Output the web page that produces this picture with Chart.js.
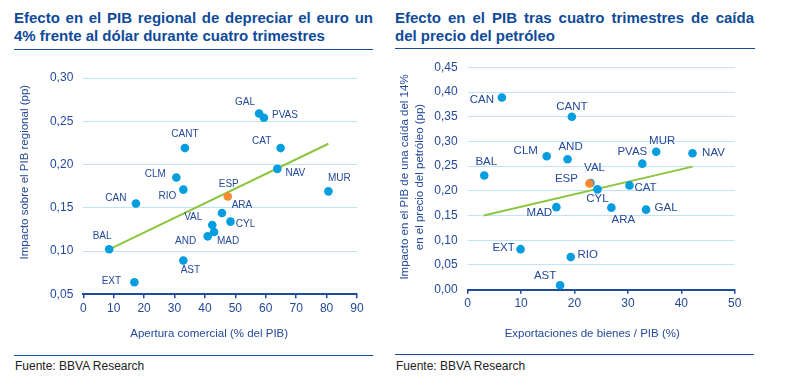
<!DOCTYPE html>
<html><head><meta charset="utf-8">
<script src="https://cdn.jsdelivr.net/npm/chart.js@4"></script>
<style>
body{margin:0;background:#fff;width:788px;height:392px;overflow:hidden;position:relative;font-family:"Liberation Sans",Arial,sans-serif;}
.title{position:absolute;top:9px;width:359px;font-weight:bold;font-size:15px;line-height:17.5px;color:#0f4b9a;text-align:justify;}
.rule{position:absolute;height:0;border-top:1.5px solid #1a4b9b;}
.src{position:absolute;top:359px;font-size:12px;color:#222;}
canvas{position:absolute;top:50px;}
</style></head>
<body>
<div class="title" style="left:14px">Efecto en el PIB regional de depreciar el euro un 4% frente al dólar durante cuatro trimestres</div>
<div class="rule" style="left:14px;top:48.5px;width:359px"></div>
<div class="title" style="left:395px">Efecto en el PIB tras cuatro trimestres de caída del precio del petróleo</div>
<div class="rule" style="left:395px;top:47.5px;width:360px"></div>
<canvas id="c1" width="394" height="300" style="left:0"></canvas>
<canvas id="c2" width="394" height="300" style="left:394px"></canvas>
<div class="rule" style="left:14px;top:354.5px;width:359px"></div>
<div class="rule" style="left:395px;top:353.5px;width:359px"></div>
<div class="src" style="left:15px">Fuente: BBVA Research</div>
<div class="src" style="left:396px">Fuente: BBVA Research</div>
<script>
// ---------- Data: left chart (apertura comercial) ----------
const leftNames = ['BAL','EXT','CAN','CLM','RIO','CANT','AST','AND','VAL','MAD','CYL','ARA','ESP','GAL','PVAS','CAT','NAV','MUR'];
const leftX = [8.5,16.8,17.3,30.6,32.9,33.4,32.9,40.9,42.4,43.0,48.4,45.6,47.5,57.8,59.4,64.9,63.8,80.6];
const leftY = [0.102,0.064,0.155,0.185,0.171,0.219,0.089,0.117,0.130,0.122,0.134,0.144,0.163,0.259,0.254,0.219,0.195,0.169];
const leftTrendX = [8.5, 80.6];
const leftTrendY = [0.102, 0.224];

// ---------- Data: right chart (exportaciones de bienes) ----------
const rightNames = ['CAN','CANT','CLM','AND','BAL','ESP','VAL','CYL','MAD','PVAS','MUR','NAV','CAT','ARA','GAL','EXT','RIO','AST'];
const rightX = [6.4,19.5,14.8,18.7,3.1,22.8,23.0,24.3,16.6,32.7,35.3,42.1,30.3,26.9,33.4,9.9,19.3,17.3];
const rightY = [0.389,0.350,0.270,0.264,0.231,0.215,0.216,0.203,0.167,0.255,0.279,0.276,0.211,0.166,0.162,0.082,0.066,0.009];
const rightTrendX = [3.0, 42.1];
const rightTrendY = [0.150, 0.249];

// ---------- Styles ----------
const FONT = '"Liberation Sans", Arial, sans-serif';
const BLUE = '#049ddf', ORANGE = '#f58a33', GREEN = '#8cc63e';
const TXT = '#24499a', AXIS = '#1f4b9c', GRID = '#bfe4f6';
Chart.defaults.font.family = FONT;

const leftOffsets = {BAL:[-7,-13],EXT:[-23,-1],CAN:[-20,-5],CLM:[-21,-3],RIO:[-16,7],CANT:[0,-14],AST:[7,10],
  AND:[-22,5],VAL:[-19,-8],MAD:[14,9],CYL:[15,3],ARA:[20,-8],ESP:[1,-12],GAL:[-14,-11],PVAS:[21,-3],CAT:[-19,-7],NAV:[18,4],MUR:[11,-13]};
const rightOffsets = {CAN:[-20,2],CANT:[0,-10],CLM:[-21,-5],AND:[3,-12],BAL:[2,-14],ESP:[-23,-5],VAL:[4,-15],CYL:[0,9],
  MAD:[-17,6],PVAS:[-10,-12],MUR:[6,-11],NAV:[21,0],CAT:[16,2],ARA:[12,12],GAL:[20,-2],EXT:[-17,-1],RIO:[17,-2],AST:[-15,-9]};

function labelPlugin(offsets, font) {
  return {
    id: 'pointLabels',
    afterDatasetsDraw(chart) {
      const ctx = chart.ctx;
      ctx.save();
      ctx.font = font; ctx.fillStyle = TXT; ctx.textAlign = 'center'; ctx.textBaseline = 'middle';
      chart.data.datasets.forEach((ds, di) => {
        if (!ds.names) return;
        chart.getDatasetMeta(di).data.forEach((el, i) => {
          const n = ds.names[i]; const o = offsets[n] || [0,0];
          ctx.fillText(n, el.x + o[0], el.y + o[1]);
        });
      });
      ctx.restore();
    }
  };
}
function titlePlugin(cfg) {
  return {
    id: 'axisTitles',
    afterDraw(chart) {
      const {ctx, chartArea: a} = chart;
      ctx.save();
      ctx.font = '11.5px ' + FONT; ctx.fillStyle = TXT; ctx.textAlign = 'center'; ctx.textBaseline = 'middle';
      ctx.fillText(cfg.x.text, (a.left + a.right) / 2 + cfg.x.dx, a.bottom + cfg.x.gap);
      const cy = (a.top + a.bottom) / 2 + cfg.y.dy;
      cfg.y.lines.forEach((t, k) => {
        ctx.save(); ctx.translate(cfg.y.x + k * cfg.y.lh, cy); ctx.rotate(-Math.PI / 2);
        ctx.fillText(t, 0, 0); ctx.restore();
      });
      ctx.restore();
    }
  };
}
function buildDatasets(names, xs, ys, tx, ty, r) {
  const main = {names: [], data: []}, esp = {names: [], data: []};
  names.forEach((n, i) => { const t = n === 'ESP' ? esp : main; t.names.push(n); t.data.push({x: xs[i], y: ys[i]}); });
  return [
    {type: 'scatter', data: esp.data, names: esp.names, backgroundColor: ORANGE, borderColor: ORANGE, borderWidth: 0, pointRadius: r},
    {type: 'scatter', data: main.data, names: main.names, backgroundColor: BLUE, borderColor: BLUE, borderWidth: 0, pointRadius: r},
    {type: 'line', data: tx.map((x, i) => ({x: x, y: ty[i]})), borderColor: GREEN, borderWidth: 2, pointRadius: 0, fill: false, tension: 0}
  ];
}
function makeChart(id, ds, xMax, yMin, yMax, pad, yWidth, xHeight, offsets, labelFont, titles) {
  return new Chart(document.getElementById(id), {
    type: 'scatter',
    data: {datasets: ds},
    options: {
      responsive: false, animation: false, devicePixelRatio: 1,
      layout: {padding: pad},
      plugins: {legend: {display: false}, tooltip: {enabled: false}},
      scales: {
        x: {type: 'linear', min: 0, max: xMax,
          ticks: {stepSize: 10, color: TXT, font: {size: 12}, padding: 3},
          grid: {display: true, drawOnChartArea: false, drawTicks: true, tickLength: 4, color: AXIS, tickColor: AXIS, lineWidth: 1.5},
          border: {display: true, color: AXIS, width: 2},
          afterFit(s) { s.height = xHeight; }},
        y: {type: 'linear', min: yMin, max: yMax,
          ticks: {stepSize: 0.05, color: TXT, font: {size: 12}, padding: 10, callback: v => v.toFixed(2).replace('.', ',')},
          grid: {color: GRID, drawTicks: false, lineWidth: 1},
          border: {display: false},
          afterFit(s) { s.width = yWidth; }}
      }
    },
    plugins: [labelPlugin(offsets, labelFont), titlePlugin(titles)]
  });
}

makeChart('c1', buildDatasets(leftNames, leftX, leftY, leftTrendX, leftTrendY, 4.3), 90, 0.05, 0.30,
  {top: 28, right: 37, bottom: 0, left: 0}, 83.3, 55.7, leftOffsets, '10px ' + FONT,
  {x: {text: 'Apertura comercial (% del PIB)', dx: -11, gap: 39.7},
   y: {lines: ['Impacto sobre el PIB regional (pp)'], x: 25, dy: -14, lh: 15}});

makeChart('c2', buildDatasets(rightNames, rightX, rightY, rightTrendX, rightTrendY, 4.3), 50, 0, 0.45,
  {top: 17.3, right: 53.3, bottom: 0, left: 0}, 73.7, 60.3, rightOffsets, '11.5px ' + FONT,
  {x: {text: 'Exportaciones de bienes / PIB (%)', dx: -9, gap: 44.3},
   y: {lines: ['Impacto en el PIB de una caída del 14%', 'en el precio del petróleo (pp)'], x: 11.3, dy: -1.5, lh: 14.7}});
</script>
</body></html>
